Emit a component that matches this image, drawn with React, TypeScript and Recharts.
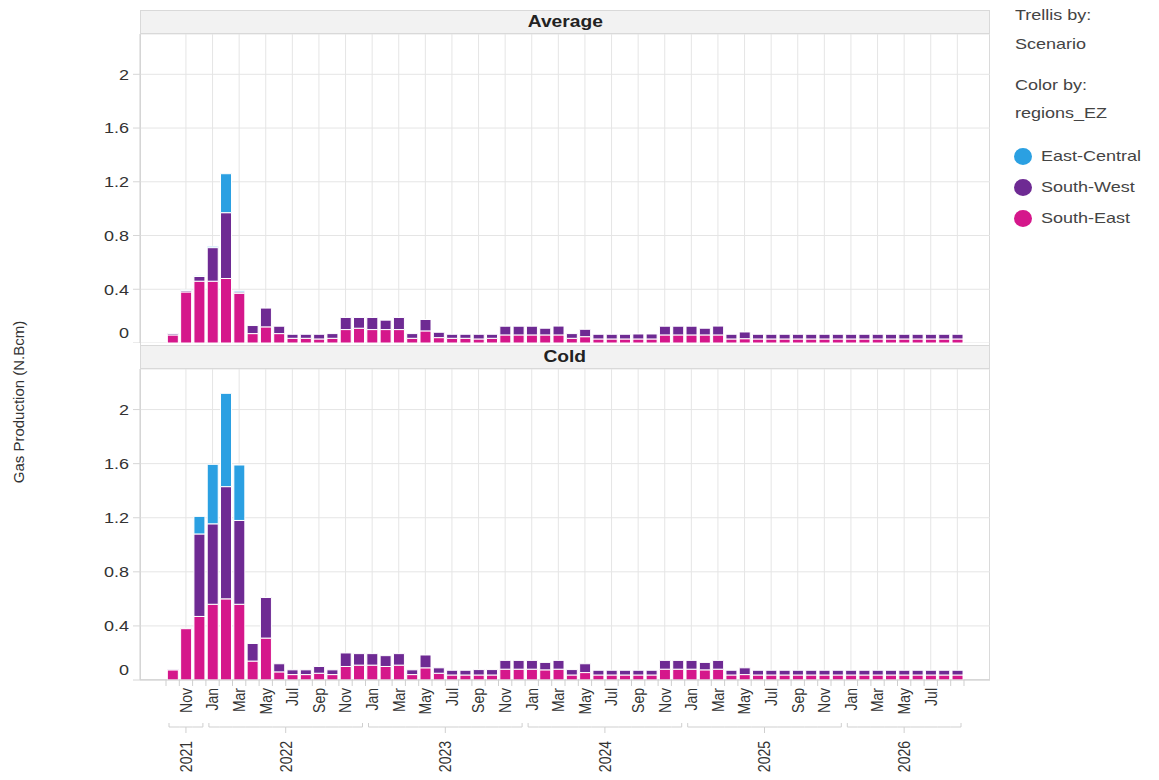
import React from 'react';
import { BarChart, Bar, XAxis, YAxis, CartesianGrid } from 'recharts';

// monthly categories, Oct 2021 .. Sep 2026
const categories = [
  'Oct 2021', 'Nov 2021', 'Dec 2021',
  'Jan 2022', 'Feb 2022', 'Mar 2022', 'Apr 2022', 'May 2022', 'Jun 2022', 'Jul 2022', 'Aug 2022', 'Sep 2022', 'Oct 2022', 'Nov 2022', 'Dec 2022',
  'Jan 2023', 'Feb 2023', 'Mar 2023', 'Apr 2023', 'May 2023', 'Jun 2023', 'Jul 2023', 'Aug 2023', 'Sep 2023', 'Oct 2023', 'Nov 2023', 'Dec 2023',
  'Jan 2024', 'Feb 2024', 'Mar 2024', 'Apr 2024', 'May 2024', 'Jun 2024', 'Jul 2024', 'Aug 2024', 'Sep 2024', 'Oct 2024', 'Nov 2024', 'Dec 2024',
  'Jan 2025', 'Feb 2025', 'Mar 2025', 'Apr 2025', 'May 2025', 'Jun 2025', 'Jul 2025', 'Aug 2025', 'Sep 2025', 'Oct 2025', 'Nov 2025', 'Dec 2025',
  'Jan 2026', 'Feb 2026', 'Mar 2026', 'Apr 2026', 'May 2026', 'Jun 2026', 'Jul 2026', 'Aug 2026', 'Sep 2026',
];

const yTicks = [0, 0.4, 0.8, 1.2, 1.6, 2];

// Average scenario (N.Bcm)
const avgSouthEast = [
  0.06, 0.38, 0.46,
  0.46, 0.48, 0.37, 0.07, 0.12, 0.07, 0.035, 0.035, 0.03, 0.035, 0.1, 0.11,
  0.1, 0.1, 0.1, 0.035, 0.09, 0.04, 0.035, 0.035, 0.03, 0.035, 0.06, 0.06,
  0.06, 0.06, 0.06, 0.035, 0.047, 0.03, 0.03, 0.03, 0.03, 0.03, 0.06, 0.06,
  0.06, 0.06, 0.06, 0.03, 0.032, 0.03, 0.03, 0.03, 0.03, 0.03, 0.03, 0.03,
  0.03, 0.03, 0.03, 0.03, 0.03, 0.03, 0.03, 0.03, 0.03,
];
const avgSouthWest = [
  0.01, 0.01, 0.035,
  0.25, 0.49, 0.01, 0.06, 0.14, 0.055, 0.03, 0.03, 0.035, 0.035, 0.09, 0.08,
  0.09, 0.07, 0.09, 0.035, 0.085, 0.04, 0.03, 0.03, 0.035, 0.03, 0.065, 0.065,
  0.065, 0.05, 0.066, 0.035, 0.055, 0.035, 0.035, 0.035, 0.037, 0.037, 0.065, 0.065,
  0.065, 0.05, 0.066, 0.035, 0.05, 0.035, 0.035, 0.035, 0.035, 0.035, 0.035, 0.035,
  0.035, 0.035, 0.035, 0.035, 0.035, 0.035, 0.035, 0.035, 0.035,
];
const avgEastCentral = [
  0, 0.005, 0.005,
  0.01, 0.29, 0.008, 0, 0, 0, 0, 0, 0, 0, 0, 0,
  0, 0, 0, 0, 0, 0, 0, 0, 0, 0, 0, 0,
  0, 0, 0, 0, 0, 0, 0, 0, 0, 0, 0, 0,
  0, 0, 0, 0, 0, 0, 0, 0, 0, 0, 0, 0,
  0, 0, 0, 0, 0, 0, 0, 0, 0,
];

// Cold scenario (N.Bcm)
const coldSouthEast = [
  0.075, 0.38, 0.47,
  0.56, 0.6, 0.56, 0.14, 0.31, 0.06, 0.04, 0.04, 0.05, 0.04, 0.1, 0.11,
  0.11, 0.1, 0.11, 0.04, 0.09, 0.05, 0.037, 0.037, 0.037, 0.037, 0.08, 0.08,
  0.08, 0.075, 0.08, 0.037, 0.055, 0.037, 0.037, 0.037, 0.037, 0.037, 0.08, 0.08,
  0.08, 0.075, 0.08, 0.037, 0.04, 0.037, 0.037, 0.037, 0.037, 0.037, 0.037, 0.037,
  0.037, 0.037, 0.037, 0.037, 0.037, 0.037, 0.037, 0.037, 0.037,
];
const coldSouthWest = [
  0.005, 0.005, 0.61,
  0.595, 0.83, 0.62, 0.13, 0.3, 0.06, 0.035, 0.035, 0.05, 0.035, 0.1, 0.085,
  0.085, 0.08, 0.085, 0.035, 0.095, 0.04, 0.035, 0.035, 0.04, 0.04, 0.065, 0.065,
  0.065, 0.055, 0.065, 0.04, 0.065, 0.035, 0.035, 0.035, 0.035, 0.035, 0.065, 0.065,
  0.065, 0.055, 0.065, 0.035, 0.05, 0.035, 0.035, 0.035, 0.035, 0.035, 0.035, 0.035,
  0.035, 0.035, 0.035, 0.035, 0.035, 0.035, 0.035, 0.035, 0.035,
];
const coldEastCentral = [
  0, 0, 0.13,
  0.44, 0.69, 0.41, 0, 0, 0, 0, 0, 0, 0, 0, 0,
  0, 0, 0, 0, 0, 0, 0, 0, 0, 0, 0, 0,
  0, 0, 0, 0, 0, 0, 0, 0, 0, 0, 0, 0,
  0, 0, 0, 0, 0, 0, 0, 0, 0, 0, 0, 0,
  0, 0, 0, 0, 0, 0, 0, 0, 0,
];

const legendItems = ['East-Central', 'South-West', 'South-East'];
const COLORS: Record<string, string> = {
  'East-Central': '#2ba0e2',
  'South-West': '#6e2a93',
  'South-East': '#d5178b',
};

const FONT = '"Liberation Sans", Arial, sans-serif';
const STRETCH = 1.2; // text is drawn a bit wide
const CHART_LEFT = 80;
const AXIS_W = 60;
const PLOT_W = 850;
const X_PAD = 26;
const BAND = (PLOT_W - 2 * X_PAD) / categories.length;

const build = (se: number[], sw: number[], ec: number[]) =>
  categories.map((month, i) => ({ month, se: se[i], sw: sw[i], ec: ec[i] }));

const averageData = build(avgSouthEast, avgSouthWest, avgEastCentral);
const coldData = build(coldSouthEast, coldSouthWest, coldEastCentral);

// first/last index of each year, for the year brackets
const yearSpans: Record<string, [number, number]> = {};
categories.forEach((c, i) => {
  const yr = c.split(' ')[1];
  if (!yearSpans[yr]) yearSpans[yr] = [i, i];
  else yearSpans[yr][1] = i;
});

// vertical grid on every second month (Nov, Jan, Mar, ...)
const gridXs = (props: any) => {
  const left = props?.offset?.left ?? AXIS_W;
  return categories
    .map((_, i) => i)
    .filter((i) => i % 2 === 1)
    .map((i) => left + X_PAD + BAND * (i + 0.5));
};

const YTick = (props: any) => {
  const { x, y, payload } = props;
  const ty = payload.value === 0 ? y - 10 : y;
  return (
    <text
      transform={`translate(${x},${ty}) scale(${STRETCH},1)`}
      textAnchor="end"
      dy="0.35em"
      fontSize={15}
      fill="#333"
      fontFamily={FONT}
    >
      {payload.value}
    </text>
  );
};

const MonthTick = (props: any) => {
  const { x, y, index } = props;
  const [mon, yr] = categories[index].split(' ');
  const [first, last] = yearSpans[yr];
  const left = x - BAND / 2;
  const right = x + BAND / 2;
  const by = y + 47;
  const bx1 = index === first ? left + 3 : left;
  const bx2 = index === last ? right - 3 : right;
  const center = (first + last) / 2;
  const showYear = index === Math.ceil(center);
  const cx = x + (center - index) * BAND;
  const showMonth = index % 2 === 1 && index < categories.length - 1;

  return (
    <g>
      <line x1={left} x2={left} y1={y} y2={y + 6} stroke="#cfcfcf" />
      {index === categories.length - 1 && <line x1={right} x2={right} y1={y} y2={y + 6} stroke="#cfcfcf" />}
      {showMonth && (
        <text
          transform={`translate(${x},${y + 8}) scale(${STRETCH},1) rotate(-90)`}
          textAnchor="end"
          dy="0.35em"
          fontSize={14}
          fill="#333"
          fontFamily={FONT}
        >
          {mon}
        </text>
      )}
      <line x1={bx1} x2={bx2} y1={by} y2={by} stroke="#cfcfcf" />
      {index === first && <line x1={bx1} x2={bx1} y1={by} y2={by - 4} stroke="#cfcfcf" />}
      {index === last && <line x1={bx2} x2={bx2} y1={by} y2={by - 4} stroke="#cfcfcf" />}
      {showYear && (
        <>
          <line x1={cx} x2={cx} y1={by} y2={by + 6} stroke="#cfcfcf" />
          <text
            transform={`translate(${cx},${y + 61}) scale(${STRETCH},1) rotate(-90)`}
            textAnchor="end"
            dy="0.35em"
            fontSize={14}
            fill="#333"
            fontFamily={FONT}
          >
            {yr}
          </text>
        </>
      )}
    </g>
  );
};

interface PanelProps {
  title: string;
  data: { month: string; se: number; sw: number; ec: number }[];
  top: number;
  plotH: number;
  showAxis: boolean;
}

const Panel = ({ title, data, top, plotH, showAxis }: PanelProps) => (
  <>
    <div
      style={{
        position: 'absolute',
        left: 140,
        top: top - 24,
        width: PLOT_W,
        height: 24,
        boxSizing: 'border-box',
        border: '1px solid #d9d9d9',
        background: '#f2f2f2',
        display: 'flex',
        alignItems: 'center',
        justifyContent: 'center',
      }}
    >
      <span style={{ display: 'inline-block', transform: `scaleX(${STRETCH})`, fontWeight: 'bold', fontSize: 16, color: '#222' }}>
        {title}
      </span>
    </div>
    <div style={{ position: 'absolute', left: CHART_LEFT, top }}>
      <BarChart
        width={AXIS_W + PLOT_W}
        height={plotH + (showAxis ? 100 : 0)}
        data={data}
        margin={{ top: 0, right: 0, bottom: 0, left: 0 }}
        barCategoryGap="10%"
        style={{ overflow: 'visible' }}
      >
        <CartesianGrid stroke="#e5e5e5" verticalCoordinatesGenerator={gridXs} />
        <XAxis
          dataKey="month"
          hide={!showAxis}
          height={100}
          interval={0}
          padding={{ left: X_PAD, right: X_PAD }}
          tickLine={false}
          tickSize={0}
          tickMargin={0}
          axisLine={{ stroke: '#cfcfcf' }}
          tick={(p: any) => <MonthTick {...p} />}
        />
        <YAxis
          width={AXIS_W}
          domain={[0, 2.3]}
          ticks={yTicks}
          interval={0}
          tickSize={7}
          tickMargin={4}
          tickLine={{ stroke: '#d6d6d6' }}
          axisLine={{ stroke: '#cfcfcf' }}
          tick={(p: any) => <YTick {...p} />}
        />
        <Bar dataKey="se" name="South-East" stackId="s" fill={COLORS['South-East']} stroke="#fff" strokeWidth={1} isAnimationActive={false} />
        <Bar dataKey="sw" name="South-West" stackId="s" fill={COLORS['South-West']} stroke="#fff" strokeWidth={1} isAnimationActive={false} />
        <Bar dataKey="ec" name="East-Central" stackId="s" fill={COLORS['East-Central']} stroke="#fff" strokeWidth={1} isAnimationActive={false} />
      </BarChart>
    </div>
  </>
);

const legendText = (text: string, left: number, top: number) => (
  <div
    style={{
      position: 'absolute',
      left,
      top,
      fontSize: 15,
      color: '#444',
      whiteSpace: 'nowrap',
      transform: `scaleX(${STRETCH})`,
      transformOrigin: 'left center',
      lineHeight: '18px',
    }}
  >
    {text}
  </div>
);

export default function App() {
  return (
    <div style={{ position: 'absolute', left: 0, top: 0, width: 1159, height: 780, background: '#fff', fontFamily: FONT }}>
      {/* panel frame */}
      <div
        style={{
          position: 'absolute',
          left: 140,
          top: 10,
          width: PLOT_W,
          height: 670,
          boxSizing: 'border-box',
          border: '1px solid #dadada',
        }}
      />
      <Panel title="Average" data={averageData} top={34} plotH={309} showAxis={false} />
      <Panel title="Cold" data={coldData} top={369} plotH={311} showAxis={true} />

      {/* y axis title */}
      <div
        style={{
          position: 'absolute',
          left: 18,
          top: 402,
          transform: 'translate(-50%, -50%) rotate(-90deg)',
          whiteSpace: 'nowrap',
          fontSize: 15,
          color: '#333',
        }}
      >
        Gas Production (N.Bcm)
      </div>

      {/* legend */}
      {legendText('Trellis by:', 1015, 6)}
      {legendText('Scenario', 1015, 35)}
      {legendText('Color by:', 1015, 76)}
      {legendText('regions_EZ', 1015, 104)}
      {legendItems.map((name, i) => (
        <React.Fragment key={name}>
          <div
            style={{
              position: 'absolute',
              left: 1014,
              top: 148 + i * 31,
              width: 18,
              height: 17,
              borderRadius: '50%',
              background: COLORS[name],
            }}
          />
          {legendText(name, 1041, 147 + i * 31)}
        </React.Fragment>
      ))}
    </div>
  );
}
